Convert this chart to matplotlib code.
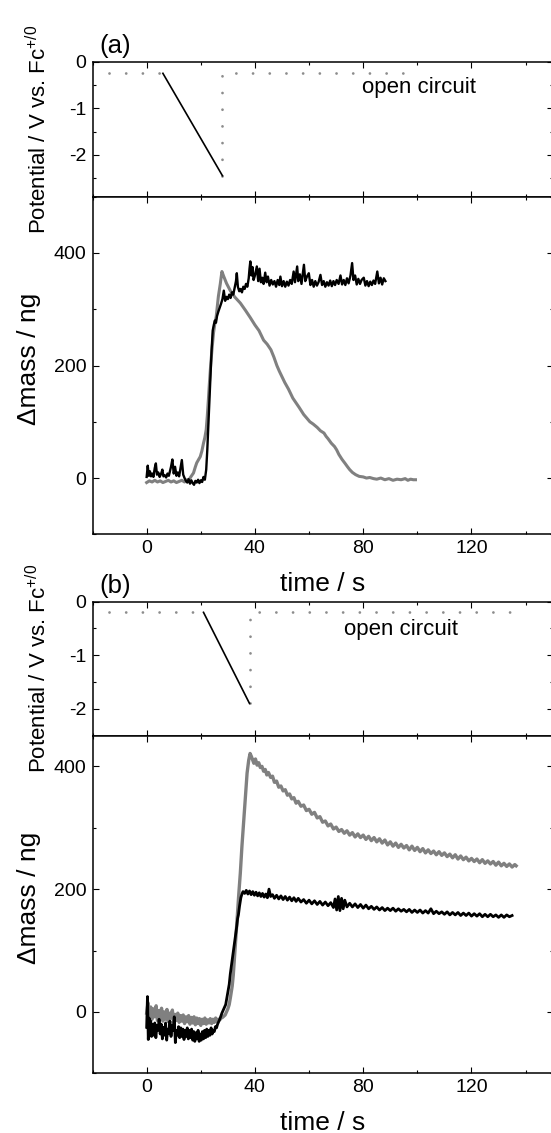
import numpy as np
import matplotlib
matplotlib.use('Agg')
import matplotlib.pyplot as plt
from matplotlib.ticker import MultipleLocator

plt.rcParams['font.family'] = ['Liberation Sans', 'DejaVu Sans']
plt.rcParams['mathtext.fontset'] = 'custom'
plt.rcParams['mathtext.rm'] = 'Liberation Sans'
plt.rcParams['axes.unicode_minus'] = False

# ---- potential programs (s, V) ----
sweep_a_t = [6, 28]
sweep_a_v = [-0.25, -2.45]
pre_a_t = [-14, 6]
pre_a_v = [-0.25, -0.25]
post_a_t = [28, 28, 96]
post_a_v = [-2.45, -0.25, -0.25]

sweep_b_t = [21, 38]
sweep_b_v = [-0.2, -1.9]
pre_b_t = [-14, 21]
pre_b_v = [-0.2, -0.2]
post_b_t = [38, 38, 137]
post_b_v = [-1.9, -0.2, -0.2]

# ---- mass (a), black ----
ma_blk_t = [0, 0.4, 0.8, 1.2, 1.6, 2.0, 2.5, 3.0, 3.4, 3.8, 4.3, 4.8, 5.3, 5.8, 6.2, 6.7,
            7.2, 7.7, 8.2, 8.6, 9.0, 9.5, 10.0, 10.5, 11.0, 11.5, 12.0, 12.5, 13.0, 13.5,
            14.0, 14.5, 15.0, 15.5, 16.0, 16.5, 17.0, 17.5, 18.0, 18.5, 19.0, 19.5, 20.0,
            20.5, 21.0, 21.5, 22.0, 22.4, 22.8, 23.2, 23.6, 24.0, 24.4, 24.8, 25.2, 25.6,
            26.0, 26.5, 27.0, 27.5, 28.0, 28.5, 29.0, 29.5, 30.0, 30.5, 31.0, 31.5, 32.0,
            32.5, 33.0, 33.3, 33.7, 34.2, 34.7, 35.2, 35.7, 36.2, 36.7, 37.2, 37.7, 38.0,
            38.3, 38.7, 39.1, 39.5, 40.0, 40.7, 41.2, 41.7, 42.2, 42.7, 43.2, 43.8, 44.3,
            44.8, 45.4, 46.0, 46.6, 47.2, 47.8, 48.4, 49.0, 49.4, 50.0, 50.6, 51.2, 51.8,
            52.4, 53.0, 53.6, 54.3, 54.8, 55.6, 56.0, 56.6, 57.2, 58.1, 58.6, 59.2, 59.9,
            60.5, 61.1, 61.7, 62.3, 62.9, 63.5, 64.2, 64.8, 65.4, 66.0, 66.6, 67.2, 67.8,
            68.4, 69.0, 69.6, 70.2, 70.9, 71.6, 72.2, 72.8, 73.4, 74.0, 74.6, 75.3, 75.9,
            76.4, 77.0, 77.6, 78.2, 78.8, 79.4, 80.2, 80.8, 81.4, 82.0, 82.6, 83.2, 83.8,
            84.4, 85.2, 85.8, 86.4, 87.0, 87.6, 88.2]
ma_blk_m = [2, 22, 4, 12, 3, 8, 2, 18, 26, 6, 10, 2, 7, 15, 3, 5,
            1, 8, 4, 12, 20, 33, 8, 20, 4, 10, 3, 18, 32, 6,
            0, -5, -8, -2, -10, -4, -9, -12, -5, -8, -3, -9, -4,
            -7, 2, -3, 15, 50, 95, 139, 185, 228, 262, 272, 280, 276,
            288, 296, 303, 310, 318, 333, 315, 322, 318, 326, 320, 330, 326,
            338, 350, 364, 340, 332, 336, 330, 340, 336, 345, 340, 355, 372,
            385, 360, 375, 352, 360, 376, 350, 372, 348, 356, 345, 365, 348,
            358, 342, 352, 344, 350, 340, 352, 343, 358, 341, 350, 340, 349,
            342, 352, 345, 367, 348, 376, 350, 362, 345, 379, 350, 358, 364,
            343, 352, 340, 350, 342, 348, 361, 343, 350, 340, 348, 342, 351,
            341, 350, 343, 352, 345, 360, 344, 352, 343, 355, 346, 360, 382,
            352, 360, 344, 354, 345, 352, 356, 342, 350, 341, 349, 343, 351,
            345, 367, 346, 356, 344, 355, 350]

# ---- mass (a), grey ----
ma_gry_t = [0, 1, 2, 3, 4, 5, 6, 7, 8, 9, 10, 11, 12, 13, 14, 15, 15.5, 16.3, 17.3, 18.0,
            18.5, 19.2, 19.8, 20.4, 21.0, 21.5, 22.0, 22.4, 22.8, 23.2, 23.7, 24.2, 24.7,
            25.2, 25.7, 26.1, 26.5, 27.2, 27.8, 28.5, 29.5, 30.9, 32.5, 34.6, 36.5, 38.3,
            40.0, 41.5, 43.2, 44.5, 45.9, 47.0, 48.1, 49.0, 49.8, 51.0, 52.4, 54.0, 56.4,
            58.0, 60.3, 61.5, 63.0, 64.2, 65.5, 66.3, 67.0, 68.2, 69.4, 70.2, 71.0, 72.2,
            73.3, 74.2, 75.0, 76.0, 77.2, 78.5, 80.0, 81.2, 82.4, 83.8, 85.0, 86.5, 88.0,
            89.5, 91.0, 92.5, 94.0, 95.5, 96.5, 97.5, 98.5, 99.3]
ma_gry_m = [-8, -5, -7, -4, -7, -5, -8, -6, -4, -7, -5, -8, -6, -4, -7, -3, -4, 2, 9, 20,
            27, 33, 38, 48, 62, 72, 86, 110, 139, 170, 204, 232, 258,
            275, 287, 305, 323, 345, 367, 358, 346, 333, 322, 311, 298, 285,
            272, 262, 245, 238, 228, 215, 200, 190, 182, 170, 158, 142, 125,
            113, 100, 96, 90, 84, 80, 74, 70, 62, 56, 50, 42, 33,
            26, 20, 15, 10, 6, 3, 2, 0, 1, -1, -2, 0, -3,
            -1, -4, -2, -3, -1, -4, -2, -3, -3]

# ---- mass (b), grey ----
mb_gry_t = [0, 0.5, 1.0, 1.5, 2.0, 2.5, 3.0, 3.5, 4.0, 4.5, 5.0, 5.5, 6.0, 6.5, 7.0, 7.5,
            8.0, 8.5, 9.0, 9.5, 10.0, 10.5, 11.0, 11.5, 12.0, 12.5, 13.0, 13.5, 14.0, 14.5,
            15.0, 15.5, 16.0, 16.5, 17.0, 17.5, 18.0, 18.5, 19.0, 19.5, 20.0, 20.5, 21.0,
            21.5, 22.0, 22.5, 23.0, 23.5, 24.0, 24.5, 25.0, 25.5, 26.0, 26.5, 27.0, 27.5,
            28.0, 28.5, 29.0, 29.5, 30.0, 30.5, 31.0, 31.6, 32.0, 32.4, 32.9, 33.4, 34.0,
            34.6, 35.2, 35.9, 36.5, 37.1, 37.7, 38.2, 38.7, 39.2, 39.6, 40.2, 40.8, 41.4,
            42.0, 42.6, 43.2, 43.8, 44.4, 45.0, 45.8, 46.5, 47.2, 48.0, 48.8, 49.6, 50.4,
            51.2, 52.0, 52.8, 53.6, 54.4, 55.2, 56.0, 57, 58, 59, 60, 61, 62, 63, 64, 65,
            66, 67, 68, 69, 70, 71, 72, 73, 74, 75, 76, 77, 78, 79, 80, 81, 82, 83, 84, 85,
            86, 87, 88, 89, 90, 91, 92, 93, 94, 95, 96, 97, 98, 99, 100, 101, 102, 103, 104,
            105, 106, 107, 108, 109, 110, 111, 112, 113, 114, 115, 116, 117, 118, 119, 120,
            121, 122, 123, 124, 125, 126, 127, 128, 129, 130, 131, 132, 133, 134, 135, 136,
            136.5]
mb_gry_m = [-2, 15, -10, 8, -12, 5, -8, 10, -14, 2, -10, 6, -15, 0, -12, 4,
            -16, -2, -10, 3, -18, -4, -14, -2, -17, -6, -15, -5, -19, -8,
            -16, -6, -20, -9, -18, -8, -21, -10, -19, -11, -22, -12, -19,
            -10, -20, -13, -18, -11, -19, -12, -17, -10, -16, -12, -13, -10,
            -9, -7, -5, 0, 5, 12, 25, 42, 60, 85, 118, 150, 190,
            226, 270, 313, 352, 389, 410, 421, 416, 410, 405, 412, 402, 406,
            398, 400, 392, 395, 386, 390, 382, 384, 374, 376, 366, 368, 360,
            362, 353, 355, 347, 349, 340, 343, 335, 337, 328, 330, 322, 325, 316, 318, 309,
            311, 303, 306, 298, 301, 294, 297, 291, 295, 288, 292, 285, 290, 284, 288, 281,
            286, 279, 284, 277, 282, 275, 280, 272, 277, 270, 275, 268, 273, 267, 271, 264,
            270, 263, 268, 261, 266, 259, 264, 258, 262, 256, 261, 255, 259, 253, 257, 251,
            256, 249, 254, 248, 252, 246, 250, 245, 249, 243, 248, 242, 246, 241, 245, 239,
            244, 238, 242, 237, 241, 236, 240, 238]

# ---- mass (b), black ----
mb_blk_t = [0, 0.3, 0.6, 0.9, 1.2, 1.5, 1.8, 2.2, 2.6, 3.0, 3.4, 3.8, 4.2, 4.6, 5.0, 5.4,
            5.8, 6.2, 6.6, 7.0, 7.4, 7.8, 8.2, 8.6, 9.0, 9.4, 9.8, 10.2, 10.6, 11.0, 11.4,
            11.8, 12.2, 12.6, 13.0, 13.4, 13.8, 14.2, 14.6, 15.0, 15.4, 15.8, 16.2, 16.6,
            17.0, 17.4, 17.8, 18.2, 18.6, 19.0, 19.4, 19.8, 20.2, 20.6, 21.0, 21.4, 21.8,
            22.2, 22.6, 23.0, 23.4, 23.8, 24.2, 24.6, 25.0, 25.4, 25.8, 26.2, 26.6, 27.0,
            27.4, 27.8, 28.3, 28.8, 29.2, 29.7, 30.1, 30.5, 30.9, 31.3, 31.7, 32.1, 32.5,
            32.9, 33.3, 33.6, 33.9, 34.3, 34.8, 35.2, 35.6, 36.2, 36.8, 37.4, 38.0, 38.6,
            39.2, 39.8, 40.4, 41.0, 41.6, 42.2, 42.8, 43.4, 44.0, 44.6, 45.2, 45.8, 46.5,
            47.2, 48.0, 48.8, 49.6, 50.4, 51.2, 52.0, 52.8, 53.6, 54.4, 55.2, 56.0, 57, 58,
            59, 60, 61, 62, 63, 64, 65, 66, 67, 68, 69, 69.6, 70.2, 70.8, 71.4, 72.0, 72.6,
            73.2, 74, 75, 76, 77, 78, 79, 80, 81, 82, 83, 84, 85, 86, 87, 88, 89, 90, 91,
            92, 93, 94, 95, 96, 97, 98, 99, 100, 101, 102, 103, 104, 105, 106, 107, 108,
            109, 110, 111, 112, 113, 114, 115, 116, 117, 118, 119, 120, 121, 122, 123, 124,
            125, 126, 127, 128, 129, 130, 131, 132, 133, 134, 135]
mb_blk_m = [-25, 25, -45, -10, -35, -15, -40, -20, -38, -18, -42, -22, -30, -12, -36, -20,
            -44, -25, -38, -18, -46, -28, -35, -15, -40, -22, -30, -8, -50, -30, -38,
            -24, -42, -26, -40, -28, -45, -30, -40, -26, -44, -30, -42, -28,
            -46, -32, -48, -34, -44, -30, -48, -36, -46, -32, -44, -30, -42,
            -28, -40, -30, -38, -26, -36, -30, -32, -24, -26, -20, -16, -12,
            -7, -2, 3, 8, 12, 25, 35, 45, 62, 75, 88, 100, 115,
            128, 140, 152, 158, 172, 186, 192, 196, 193, 198, 192, 197, 191,
            196, 190, 195, 189, 194, 188, 193, 187, 192, 186, 200, 188, 191,
            185, 190, 184, 189, 183, 188, 182, 187, 181, 186, 180, 185, 179, 183,
            177, 182, 176, 181, 175, 180, 174, 179, 173, 178, 170, 184, 166, 188, 165, 185, 168,
            182, 171, 177, 171, 176, 170, 175, 169, 174, 168, 172, 167, 171, 166, 170, 165, 169, 165, 169,
            164, 168, 164, 167, 163, 167, 162, 166, 162, 166, 161, 165, 161, 168, 160, 164, 160,
            163, 159, 163, 158, 162, 158, 162, 157, 161, 157, 161, 156, 160, 156, 160, 155,
            159, 155, 159, 155, 158, 154, 158, 154, 158, 155, 157]

GREY = '#808080'
DOT = '#8c8c8c'

fig = plt.figure(figsize=(5.51, 11.33), dpi=100)
L, W = 0.1679, 0.8352
ax_pa = fig.add_axes([L, 0.8264, W, 0.11915])
ax_ma = fig.add_axes([L, 0.5284, W, 0.2980])
ax_pb = fig.add_axes([L, 0.3507, W, 0.1183])
ax_mb = fig.add_axes([L, 0.0527, W, 0.2980])


def style(ax, ylim, ymaj, ymin, xlab):
    ax.set_xlim(-20, 150)
    ax.set_ylim(*ylim)
    ax.xaxis.set_major_locator(MultipleLocator(40))
    ax.xaxis.set_minor_locator(MultipleLocator(20))
    ax.yaxis.set_major_locator(MultipleLocator(ymaj))
    ax.yaxis.set_minor_locator(MultipleLocator(ymin))
    ax.tick_params(which='both', direction='in', top=True, right=True,
                   width=0.8, labelsize=14, pad=4.3)
    ax.tick_params(which='major', length=4.5)
    ax.tick_params(which='minor', length=2.5)
    for s in ax.spines.values():
        s.set_linewidth(1.1)
    if not xlab:
        ax.tick_params(labelbottom=False)


def potential(ax, pre_t, pre_v, sw_t, sw_v, post_t, post_v, ylim, tag, oc_x, oc_y):
    ax.plot(pre_t, pre_v, color=DOT, lw=2.0, dashes=(0.01, 6.0),
            dash_capstyle='round')
    ax.plot(post_t, post_v, color=DOT, lw=2.0, dashes=(0.01, 6.0),
            dash_capstyle='round')
    ax.plot(sw_t, sw_v, color='black', lw=1.2)
    style(ax, ylim, 1, 0.5, False)
    ax.set_ylabel('Potential / V vs. Fc$^{\\mathrm{+/0}}$', fontsize=16)
    ax.yaxis.set_label_coords(-0.0904, 0.5)
    ax.text(0.014, 1.066, tag, transform=ax.transAxes, fontsize=18.5,
            ha='left', va='baseline')
    ax.text(oc_x, oc_y, 'open circuit', fontsize=16, ha='center', va='baseline')


def mass(ax, t1, m1, t2, m2, ylim, lw1, lw2):
    ax.plot(t2, m2, color=GREY, lw=lw2)
    ax.plot(t1, m1, color='black', lw=lw1)
    style(ax, ylim, 200, 100, True)
    ax.set_ylabel('\u0394mass / ng', fontsize=19)
    ax.yaxis.set_label_coords(-0.113, 0.52)
    ax.set_xlabel('time / s', fontsize=19)
    ax.xaxis.set_label_coords(0.5, -0.112)


potential(ax_pa, pre_a_t, pre_a_v, sweep_a_t, sweep_a_v, post_a_t, post_a_v,
          (-2.9, 0), '(a)', 100.5, -0.68)
mass(ax_ma, ma_blk_t, ma_blk_m, ma_gry_t, ma_gry_m, (-100, 500), 1.7, 2.2)
potential(ax_pb, pre_b_t, pre_b_v, sweep_b_t, sweep_b_v, post_b_t, post_b_v,
          (-2.5, 0), '(b)', 94.1, -0.62)
mass(ax_mb, mb_blk_t, mb_blk_m, mb_gry_t, mb_gry_m, (-100, 450), 2.0, 2.4)

fig.savefig('out.png', dpi=100)
